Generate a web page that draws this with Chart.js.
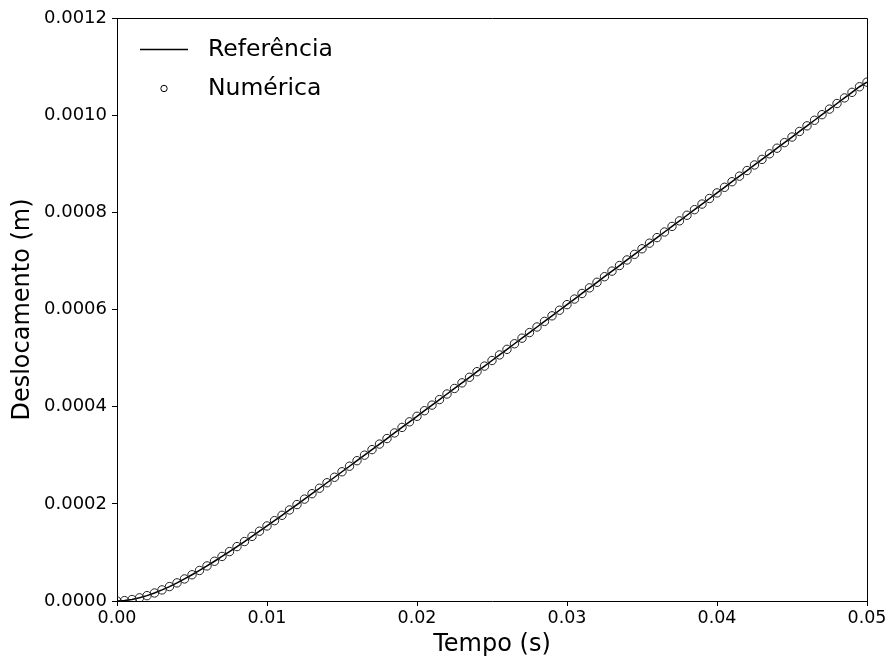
<!DOCTYPE html>
<html><head><meta charset="utf-8">
<script src="https://cdn.jsdelivr.net/npm/chart.js@4/dist/chart.umd.min.js"></script>
<style>html,body{margin:0;padding:0;background:#fff}#wrap{width:889px;height:661px}</style>
</head><body><div id="wrap"><canvas id="c" width="889" height="661"></canvas></div>
<script>
const tempo = [0,0.0005,0.001,0.0015,0.002,0.0025,0.003,0.0035,0.004,0.0045,
0.005,0.0055,0.006,0.0065,0.007,0.0075,0.008,0.0085,0.009,0.0095,
0.01,0.0105,0.011,0.0115,0.012,0.0125,0.013,0.0135,0.014,0.0145,
0.015,0.0155,0.016,0.0165,0.017,0.0175,0.018,0.0185,0.019,0.0195,
0.02,0.0205,0.021,0.0215,0.022,0.0225,0.023,0.0235,0.024,0.0245,
0.025,0.0255,0.026,0.0265,0.027,0.0275,0.028,0.0285,0.029,0.0295,
0.03,0.0305,0.031,0.0315,0.032,0.0325,0.033,0.0335,0.034,0.0345,
0.035,0.0355,0.036,0.0365,0.037,0.0375,0.038,0.0385,0.039,0.0395,
0.04,0.0405,0.041,0.0415,0.042,0.0425,0.043,0.0435,0.044,0.0445,
0.045,0.0455,0.046,0.0465,0.047,0.0475,0.048,0.0485,0.049,0.0495,0.05];
const referencia = [0,0.0000008,0.0000030,0.0000065,0.0000110,0.0000165,0.0000228,0.0000297,0.0000373,0.0000454,
0.0000540,0.0000629,0.0000722,0.0000818,0.0000917,0.0001017,0.0001120,0.0001224,0.0001330,0.0001437,
0.0001545,0.0001654,0.0001764,0.0001874,0.0001985,0.0002097,0.0002209,0.0002321,0.0002434,0.0002547,
0.0002660,0.0002774,0.0002888,0.0003002,0.0003116,0.0003230,0.0003344,0.0003459,0.0003573,0.0003688,
0.0003802,0.0003917,0.0004032,0.0004146,0.0004261,0.0004375,0.0004490,0.0004605,0.0004720,0.0004835,
0.0004950,0.0005065,0.0005180,0.0005295,0.0005410,0.0005525,0.0005640,0.0005755,0.0005870,0.0005985,
0.0006100,0.0006215,0.0006330,0.0006445,0.0006560,0.0006675,0.0006790,0.0006905,0.0007020,0.0007135,
0.0007250,0.0007365,0.0007480,0.0007595,0.0007710,0.0007825,0.0007940,0.0008055,0.0008170,0.0008285,
0.0008400,0.0008515,0.0008630,0.0008745,0.0008860,0.0008975,0.0009090,0.0009205,0.0009320,0.0009435,
0.0009550,0.0009665,0.0009780,0.0009895,0.0010010,0.0010125,0.0010240,0.0010355,0.0010470,0.0010585,0.0010680];
const numerica = [0,0.0000008,0.0000030,0.0000065,0.0000110,0.0000165,0.0000228,0.0000297,0.0000373,0.0000454,
0.0000540,0.0000629,0.0000722,0.0000818,0.0000917,0.0001017,0.0001120,0.0001224,0.0001330,0.0001437,
0.0001545,0.0001654,0.0001764,0.0001874,0.0001985,0.0002097,0.0002209,0.0002321,0.0002434,0.0002547,
0.0002660,0.0002774,0.0002888,0.0003002,0.0003116,0.0003230,0.0003344,0.0003459,0.0003573,0.0003688,
0.0003802,0.0003917,0.0004032,0.0004146,0.0004261,0.0004375,0.0004490,0.0004605,0.0004720,0.0004835,
0.0004950,0.0005065,0.0005180,0.0005295,0.0005410,0.0005525,0.0005640,0.0005755,0.0005870,0.0005985,
0.0006100,0.0006215,0.0006330,0.0006445,0.0006560,0.0006675,0.0006790,0.0006905,0.0007020,0.0007135,
0.0007250,0.0007365,0.0007480,0.0007595,0.0007710,0.0007825,0.0007940,0.0008055,0.0008170,0.0008285,
0.0008400,0.0008515,0.0008630,0.0008745,0.0008860,0.0008975,0.0009090,0.0009205,0.0009320,0.0009435,
0.0009550,0.0009665,0.0009780,0.0009895,0.0010010,0.0010125,0.0010240,0.0010355,0.0010470,0.0010585,0.0010680];
const xTicks = [0, 0.01, 0.02, 0.03, 0.04, 0.05];
const yTicks = [0, 0.0002, 0.0004, 0.0006, 0.0008, 0.0010, 0.0012];
const seriesLabels = ['Referência', 'Numérica'];
const xTitle = 'Tempo (s)';
const yTitle = 'Deslocamento (m)';

const FONT = "'DejaVu Sans', sans-serif";

const framePlugin = {
  id: 'frame',
  afterDatasetsDraw(chart) {
    const {ctx, chartArea: a} = chart;
    ctx.save();
    ctx.strokeStyle = '#000';
    ctx.lineWidth = 1;
    ctx.beginPath();
    ctx.moveTo(Math.round(a.left) + 0.5, Math.round(a.top) + 0.5);
    ctx.lineTo(Math.round(a.right) + 0.5, Math.round(a.top) + 0.5);
    ctx.lineTo(Math.round(a.right) + 0.5, Math.round(a.bottom) + 0.5);
    ctx.stroke();
    // legend
    const lx = a.left + 23;
    ctx.font = "23.5px " + FONT;
    ctx.fillStyle = '#000';
    ctx.textBaseline = 'middle';
    ctx.textAlign = 'left';
    const y1 = a.top + 31.5, y2 = a.top + 70.5;
    ctx.lineWidth = 1.5;
    ctx.beginPath();
    ctx.moveTo(lx, y1); ctx.lineTo(lx + 48, y1); ctx.stroke();
    ctx.fillText(chart.data.datasets[0].label, lx + 68, y1);
    ctx.lineWidth = 1;
    ctx.beginPath();
    ctx.arc(lx + 24, y2, 3.2, 0, Math.PI * 2); ctx.stroke();
    ctx.fillText(chart.data.datasets[1].label, lx + 68, y2);
    ctx.restore();
  }
};

new Chart(document.getElementById('c'), {
  type: 'scatter',
  data: {
    datasets: [
      {
        label: seriesLabels[0],
        data: tempo.map((t, i) => ({x: t, y: referencia[i]})),
        showLine: true,
        borderColor: '#000',
        borderWidth: 1.5,
        pointRadius: 0,
        pointHoverRadius: 0,
        clip: 0,
        order: 2
      },
      {
        label: seriesLabels[1],
        data: tempo.map((t, i) => ({x: t, y: numerica[i]})),
        showLine: false,
        pointRadius: 4.2,
        pointBorderWidth: 1,
        pointBorderColor: '#222',
        pointBackgroundColor: 'rgba(0,0,0,0)',
        clip: 0,
        order: 1
      }
    ]
  },
  options: {
    responsive: false,
    devicePixelRatio: 1,
    animation: false,
    layout: {padding: {left: 0, top: 18, right: 22, bottom: 0}},
    plugins: {legend: {display: false}, tooltip: {enabled: false}},
    scales: {
      x: {
        type: 'linear', min: 0, max: 0.05,
        afterBuildTicks: s => { s.ticks = xTicks.map(v => ({value: v})); },
        afterFit: s => { s.height = 60; },
        ticks: {color: '#000', font: {family: FONT, size: 17.5}, padding: 2, maxRotation: 0,
          callback: v => Number(v).toFixed(2)},
        grid: {drawOnChartArea: false, tickLength: 5, tickColor: '#000', tickWidth: 1},
        border: {display: true, color: '#000', width: 1},
        title: {display: true, text: xTitle, color: '#000', font: {family: FONT, size: 24}, padding: {top: 0, bottom: 2}}
      },
      y: {
        type: 'linear', min: 0, max: 0.0012,
        afterBuildTicks: s => { s.ticks = yTicks.map(v => ({value: v})); },
        afterFit: s => { s.width = 117; },
        ticks: {color: '#000', font: {family: FONT, size: 18}, padding: 5,
          callback: v => Number(v).toFixed(4)},
        grid: {drawOnChartArea: false, tickLength: 5, tickColor: '#000', tickWidth: 1},
        border: {display: true, color: '#000', width: 1},
        title: {display: true, text: yTitle, color: '#000', font: {family: FONT, size: 24}, padding: {top: 8, bottom: 0}}
      }
    }
  },
  plugins: [framePlugin]
});
</script>
</body></html>
